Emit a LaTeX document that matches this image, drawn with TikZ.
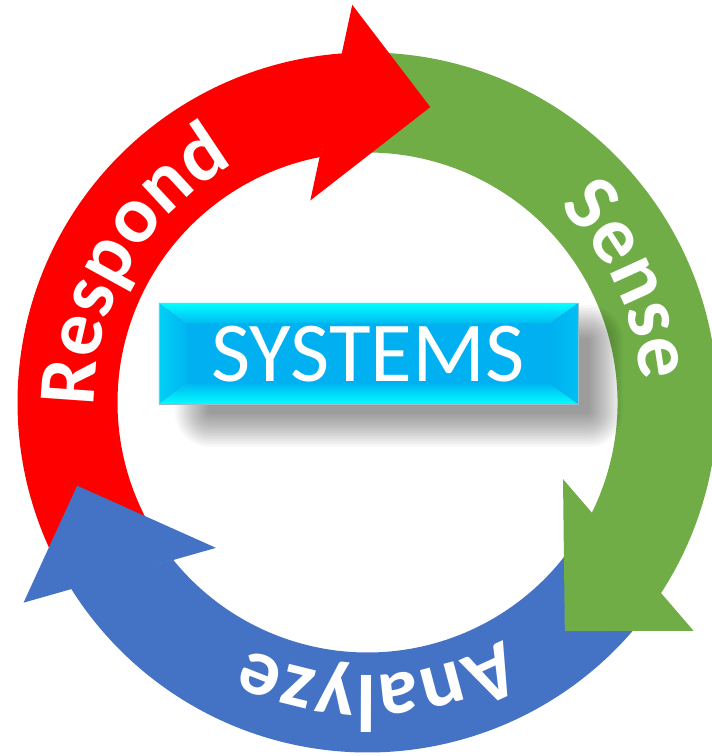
\documentclass[tikz,border=0pt]{standalone}
\usepackage{fontspec}
\setmainfont{Carlito}
\usetikzlibrary{decorations.text}
\definecolor{cred}{HTML}{FF0000}
\definecolor{cgreen}{HTML}{70AD47}
\definecolor{cblue}{HTML}{4472C4}
\definecolor{cface}{HTML}{00B0F0}
\definecolor{ccyan}{HTML}{00FFFF}
\newcommand{\labfont}{\fontsize{61}{64}\selectfont\bfseries}
\tikzset{
  labeltext/.style={decorate, decoration={text along path, text align=center, text color=white, text={|\labfont|#1}}},
}
\begin{document}
\begin{tikzpicture}[x=0.75pt,y=0.75pt]
\path[use as bounding box, fill=white] (-367.5,-353.5) rectangle (344.5,402.5);
% shafts
\fill[cred] (208:350) arc[start angle=208, end angle=94, radius=350] -- (101:250) arc[start angle=101, end angle=208, radius=250] -- cycle;
\fill[cgreen] (90:350) arc[start angle=90, end angle=-33.2, radius=350] -- (-26.2:250) arc[start angle=-26.2, end angle=90, radius=250] -- cycle;
\fill[cblue] (-37.2:350) arc[start angle=-37.2, end angle=-148, radius=350] -- (-141:250) arc[start angle=-141, end angle=-37.2, radius=250] -- cycle;
% heads
\fill[cred] (92.2:398) -- (78:302) -- (105.8:210) -- cycle;
\fill[cgreen] (-35:398) -- (-49.2:302) -- (-21.4:210) -- cycle;
\fill[cblue] (-149.8:398) -- (-164:302) -- (-136.2:210) -- cycle;
% labels
\path[labeltext=Respond] (215:273) arc[start angle=215, end angle=85, radius=273];
\path[labeltext=Sense] (90:274) arc[start angle=90, end angle=-40, radius=274];
\path[labeltext=Analyze] (-23:273) arc[start angle=-23, end angle=-153, radius=273];
% soft shadow
\foreach \k in {0,...,21}{
  \pgfmathsetmacro{\e}{1.6*(22-\k)}
  \fill[black, opacity=0.02, rounded corners=\e*0.75pt] (-157.5-\e,62.5+\e) rectangle (220.5+\e,-9.5-\e);
}
% box
\fill[cface] (-180.5,79.5) rectangle (182.5,18.5);
\shade[top color=ccyan, bottom color=cface!85!ccyan] (-208.5,99.5) -- (210.5,99.5) -- (182.5,79.5) -- (-180.5,79.5) -- cycle;
\shade[top color=cface!90!ccyan, bottom color=ccyan] (-208.5,-1.5) -- (210.5,-1.5) -- (182.5,18.5) -- (-180.5,18.5) -- cycle;
\shade[left color=cface!60!ccyan, right color=cface!92!ccyan] (-208.5,99.5) -- (-180.5,79.5) -- (-180.5,18.5) -- (-208.5,-1.5) -- cycle;
\shade[left color=cface, right color=cface!80!ccyan] (210.5,99.5) -- (182.5,79.5) -- (182.5,18.5) -- (210.5,-1.5) -- cycle;
\draw[line width=0.5pt, color=cface!40!gray!60] (-208.5,99.5) rectangle (210.5,-1.5);
\node[text=white, font=\fontsize{64}{70}\selectfont, inner sep=0pt] (sys) at (0.5,48.5) {SYSTEMS};
\end{tikzpicture}
\end{document}
